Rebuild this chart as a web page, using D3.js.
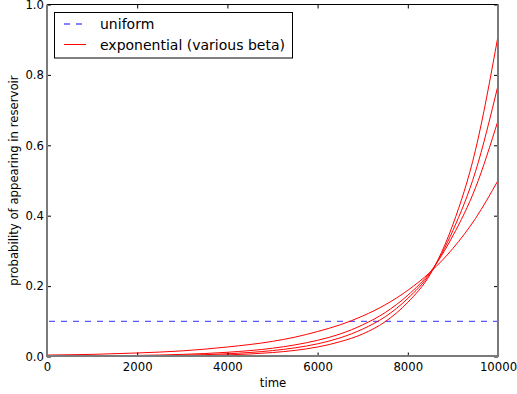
<!DOCTYPE html>
<html>
<head>
<meta charset="utf-8">
<script src="https://cdn.jsdelivr.net/npm/d3@7"></script>
<style>
  body { margin: 0; background: #fff; }
  text { font-family: "DejaVu Sans", sans-serif; fill: #000; }
</style>
</head>
<body>
<svg id="chart" width="517" height="394"></svg>
<script>
// values
const times = [0, 1000, 2000, 3000, 4000, 5000, 5500, 6000, 6500, 7000, 7500, 8000, 8500, 9000, 9500, 10000];
const expA = [0.004, 0.006, 0.010, 0.016, 0.027, 0.043, 0.055, 0.071, 0.090, 0.115, 0.147, 0.188, 0.240, 0.307, 0.392, 0.500];
const expB = [0.0008, 0.0016, 0.003, 0.006, 0.012, 0.0235, 0.033, 0.046, 0.064, 0.090, 0.125, 0.174, 0.240, 0.343, 0.479, 0.670];
const expC = [0.0004, 0.0008, 0.0017, 0.0036, 0.0078, 0.0168, 0.0246, 0.036, 0.053, 0.078, 0.113, 0.165, 0.237, 0.358, 0.525, 0.770];
const expD = [0.0001, 0.0003, 0.0008, 0.0019, 0.0046, 0.0112, 0.0174, 0.027, 0.042, 0.064, 0.099, 0.154, 0.234, 0.375, 0.586, 0.910];
const uniformValue = 0.1;
const xTicks = [0, 2000, 4000, 6000, 8000, 10000];
const yTicks = [0.0, 0.2, 0.4, 0.6, 0.8, 1.0];
const legendLabels = ['uniform', 'exponential (various beta)'];

const svg = d3.select('#chart');
const plotLeft = 47, plotRight = 498, plotTop = 4.5, plotBottom = 356.5;
const fontSize = 11.7;

const x = d3.scaleLinear().domain([0, 10000]).range([plotLeft, plotRight]);
const y = d3.scaleLinear().domain([0, 1]).range([plotBottom, plotTop]);

svg.append('defs').append('clipPath').attr('id', 'plotClip')
    .append('rect')
    .attr('x', plotLeft).attr('y', plotTop)
    .attr('width', plotRight - plotLeft).attr('height', plotBottom - plotTop);

const plot = svg.append('g').attr('clip-path', 'url(#plotClip)');

// uniform line
plot.append('line')
    .attr('x1', x(0)).attr('x2', x(10000))
    .attr('y1', y(uniformValue)).attr('y2', y(uniformValue))
    .attr('stroke', '#0000ff')
    .attr('stroke-opacity', 0.65)
    .attr('stroke-width', 1.3)
    .attr('stroke-dasharray', '6,6')
    .attr('stroke-dashoffset', -2);

// exponential curves
const line = d3.line()
    .x((d, i) => x(times[i]))
    .y(d => y(d))
    .curve(d3.curveMonotoneX);

[expA, expB, expC, expD].forEach(series => {
    plot.append('path')
        .datum(series)
        .attr('d', line)
        .attr('fill', 'none')
        .attr('stroke', 'red')
        .attr('stroke-width', 1);
});

// axes, ticks pointing inwards on all four sides
const xBottom = svg.append('g').attr('transform', `translate(0,${plotBottom})`)
    .call(d3.axisBottom(x).tickValues(xTicks).tickFormat(d3.format('d')).tickSizeInner(-4).tickSizeOuter(0).tickPadding(6));
const xTop = svg.append('g').attr('transform', `translate(0,${plotTop})`)
    .call(d3.axisTop(x).tickValues(xTicks).tickFormat('').tickSizeInner(-4).tickSizeOuter(0));
const yLeft = svg.append('g').attr('transform', `translate(${plotLeft},0)`)
    .call(d3.axisLeft(y).tickValues(yTicks).tickFormat(d3.format('.1f')).tickSizeInner(-4).tickSizeOuter(0).tickPadding(3));
const yRight = svg.append('g').attr('transform', `translate(${plotRight},0)`)
    .call(d3.axisRight(y).tickValues(yTicks).tickFormat('').tickSizeInner(-4).tickSizeOuter(0));

[xBottom, xTop, yLeft, yRight].forEach(g => {
    g.select('.domain').remove();
    g.selectAll('line').attr('stroke', '#000');
    g.selectAll('text').attr('font-size', fontSize).attr('font-family', '"DejaVu Sans", sans-serif');
});

// spines (left/bottom/right come out soft grey in the reference)
svg.append('line')
    .attr('x1', plotLeft).attr('x2', plotRight).attr('y1', plotTop).attr('y2', plotTop)
    .attr('stroke', '#000').attr('stroke-width', 1);
svg.append('line')
    .attr('x1', plotLeft).attr('x2', plotLeft).attr('y1', plotTop).attr('y2', 357)
    .attr('stroke', '#7a7a7a').attr('stroke-width', 2);
svg.append('line')
    .attr('x1', plotRight).attr('x2', plotRight).attr('y1', plotTop).attr('y2', 357)
    .attr('stroke', '#7a7a7a').attr('stroke-width', 2);
svg.append('line')
    .attr('x1', plotLeft - 1).attr('x2', plotRight + 1).attr('y1', 356).attr('y2', 356)
    .attr('stroke', '#7a7a7a').attr('stroke-width', 2);

// axis labels
svg.append('text')
    .attr('x', 273).attr('y', 387)
    .attr('text-anchor', 'middle').attr('font-size', fontSize)
    .text('time');

svg.append('text')
    .attr('transform', `translate(18,${(plotTop + plotBottom) / 2}) rotate(-90)`)
    .attr('text-anchor', 'middle').attr('font-size', fontSize)
    .text('probability of appearing in reservoir');

// legend
const legend = svg.append('g');
legend.append('rect')
    .attr('x', 54.5).attr('y', 12.5)
    .attr('width', 238).attr('height', 45.5)
    .attr('fill', '#fff').attr('stroke', '#000');

const rowY = [24, 44.5];
legend.append('line')
    .attr('x1', 64).attr('x2', 86).attr('y1', rowY[0]).attr('y2', rowY[0])
    .attr('stroke', '#0000ff').attr('stroke-opacity', 0.65)
    .attr('stroke-width', 1.3).attr('stroke-dasharray', '6,6');
legend.append('line')
    .attr('x1', 64).attr('x2', 86).attr('y1', rowY[1]).attr('y2', rowY[1])
    .attr('stroke', 'red').attr('stroke-width', 1);

legend.selectAll('text.lbl')
    .data(legendLabels)
    .enter()
    .append('text')
    .attr('class', 'lbl')
    .attr('x', 100)
    .attr('y', (d, i) => rowY[i] + 5.3)
    .attr('font-size', 14)
    .text(d => d);
</script>
</body>
</html>
